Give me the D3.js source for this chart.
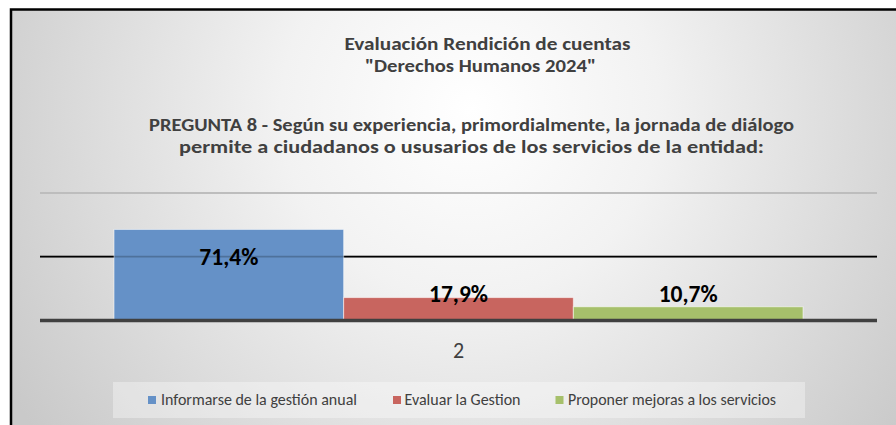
<!DOCTYPE html>
<html><head><meta charset="utf-8">
<script src="https://cdn.jsdelivr.net/npm/d3@7"></script>
<style>
html,body{margin:0;padding:0;background:#fff;}
svg{display:block;}
text{font-family:Carlito,Calibri,"Open Sans",sans-serif;}
</style></head>
<body>
<svg id="chart" width="896" height="425"></svg>
<script>
// ---- data ----
const categories = ["2"];
const seriesNames = ["Informarse de la gestión anual", "Evaluar la Gestion", "Proponer mejoras a los servicios"];
const seriesValues = [0.714, 0.179, 0.107];
const valueLabels = ["71,4%", "17,9%", "10,7%"];
const seriesColors = ["#6591c7", "#c8655f", "#a6c06b"];
const gridValues = [0.5, 1.0];
const titleLines = ["Evaluación Rendición de cuentas", "\"Derechos Humanos 2024\"", "PREGUNTA 8 - Según su experiencia, primordialmente, la jornada de diálogo", "permite a ciudadanos o ususarios de los servicios de la entidad:"];

const svg = d3.select("#chart");
const defs = svg.append("defs");
const rg = defs.append("radialGradient").attr("id","bg").attr("gradientUnits","userSpaceOnUse")
  .attr("cx",470).attr("cy",110).attr("r",540);
rg.append("stop").attr("offset","0").attr("stop-color","#ffffff");
rg.append("stop").attr("offset","0.35").attr("stop-color","#f2f2f2");
rg.append("stop").attr("offset","1").attr("stop-color","#c9c9c9");

// frame
svg.append("rect").attr("x",11).attr("y",9.5).attr("width",900).attr("height",430)
  .attr("fill","url(#bg)").attr("stroke","#000").attr("stroke-width",2.5);

// titles
const titleSpec = [
  {cx:487.5, y:50, w:286, size:19},
  {cx:480.5, y:72, w:231, size:19},
  {cx:471.5, y:131, w:645, size:19},
  {cx:471.5, y:153, w:585, size:19}
];
titleLines.forEach((t,i)=>{
  const s = titleSpec[i];
  svg.append("text").attr("x",s.cx).attr("y",s.y).attr("text-anchor","middle")
    .attr("font-size",s.size).attr("font-weight","bold").attr("fill","#404040")
    .attr("textLength",s.w).attr("lengthAdjust","spacingAndGlyphs").text(t);
});

// scales
const x0 = d3.scaleBand().domain(categories).range([40,877]).paddingInner(0).paddingOuter(0.1074);
const x1 = d3.scaleBand().domain(seriesNames).range([0,x0.bandwidth()]).padding(0);
const y = d3.scaleLinear().domain([0,1]).range([320.4,193]);

// gridlines
const g = svg.append("g");
g.selectAll("line.grid").data(gridValues).enter().append("line")
  .attr("x1",40).attr("x2",877).attr("y1",d=>y(d)).attr("y2",d=>y(d))
  .attr("stroke",d=>d===1?"#bdbdbd":"#000").attr("stroke-width",d=>d===1?2:1.8);

// bars
const data = seriesNames.map((n,i)=>({name:n, value:seriesValues[i], label:valueLabels[i], color:seriesColors[i], cat:categories[0]}));
g.selectAll("rect.bar").data(data).enter().append("rect")
  .attr("x",d=>x0(d.cat)+x1(d.name)).attr("width",x1.bandwidth())
  .attr("y",d=>y(d.value)).attr("height",d=>y(0)-y(d.value))
  .attr("fill",d=>d.color).attr("stroke","rgba(255,255,255,0.55)").attr("stroke-width",1);

// faint gridline showing through bars
g.selectAll("line.thru").data(gridValues.filter(v=>v<1)).enter().append("line")
  .attr("x1",40).attr("x2",877).attr("y1",d=>y(d)).attr("y2",d=>y(d))
  .attr("stroke","rgba(0,0,0,0.22)").attr("stroke-width",1.8);

// axis line
g.append("line").attr("x1",40).attr("x2",877).attr("y1",y(0)).attr("y2",y(0))
  .attr("stroke","#404040").attr("stroke-width",3.5);

// category axis
const ax = svg.append("g").attr("transform",`translate(0,${y(0)})`).call(d3.axisBottom(x0).tickSize(0));
ax.select(".domain").remove();
ax.selectAll("text").attr("font-size",22).attr("fill","#404040").attr("dy",0).attr("y",37.6)
  .style("font-family","Carlito,Calibri,'Open Sans',sans-serif");

// data labels
g.selectAll("text.lbl").data(data).enter().append("text")
  .attr("x",d=>x0(d.cat)+x1(d.name)+x1.bandwidth()/2)
  .attr("y",(d,i)=> i===0 ? y(d.value)+36 : y(0)-18)
  .attr("text-anchor","middle").attr("font-size",24).attr("font-weight","bold").attr("fill","#000")
  .attr("textLength",59).attr("lengthAdjust","spacingAndGlyphs").text(d=>d.label);

// legend
svg.append("rect").attr("x",113).attr("y",382).attr("width",692).attr("height",36)
  .attr("fill","#ffffff").attr("opacity",0.35);
const legSpec = [{sx:148, tx:161, w:196},{sx:393, tx:404.5, w:116},{sx:555.5, tx:568, w:208}];
const leg = svg.selectAll("g.leg").data(data).enter().append("g");
leg.append("rect").attr("x",(d,i)=>legSpec[i].sx).attr("y",396).attr("width",8).attr("height",8).attr("fill",d=>d.color);
leg.append("text").attr("x",(d,i)=>legSpec[i].tx).attr("y",404.5).attr("font-size",17).attr("fill","#404040")
  .attr("textLength",(d,i)=>legSpec[i].w).attr("lengthAdjust","spacingAndGlyphs").text(d=>d.name);
</script>
</body></html>
